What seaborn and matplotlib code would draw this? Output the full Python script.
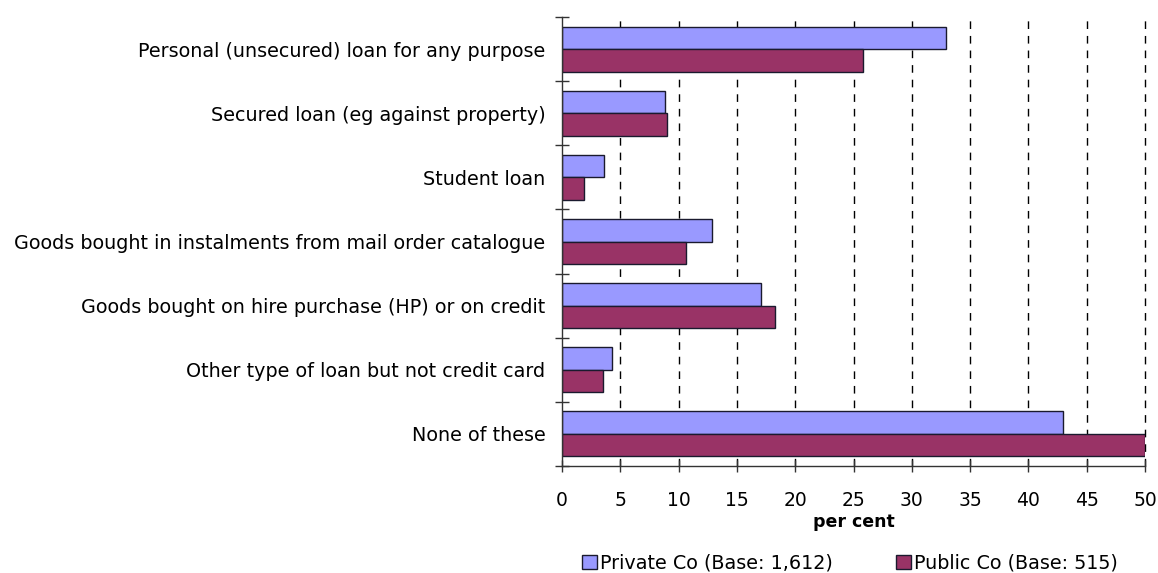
import matplotlib
matplotlib.use("Agg")
import matplotlib.pyplot as plt
import seaborn as sns
import pandas as pd
import numpy as np

categories = [
    "Personal (unsecured) loan for any purpose",
    "Secured loan (eg against property)",
    "Student loan",
    "Goods bought in instalments from mail order catalogue",
    "Goods bought on hire purchase (HP) or on credit",
    "Other type of loan but not credit card",
    "None of these",
]
series_names = ["Private Co (Base: 1,612)", "Public Co (Base: 515)"]
private_vals = [32.9, 8.8, 3.6, 12.9, 17.1, 4.3, 43.0]
public_vals = [25.8, 9.0, 1.9, 10.6, 18.3, 3.5, 50.0]
x_ticks = [0, 5, 10, 15, 20, 25, 30, 35, 40, 45, 50]

df = pd.DataFrame({
    "category": categories * 2,
    "series": [series_names[0]] * len(categories) + [series_names[1]] * len(categories),
    "value": private_vals + public_vals,
})

sns.set_style("white")
plt.rcParams["font.family"] = ["DejaVu Sans"]

fig = plt.figure(figsize=(11.58, 5.73), dpi=100)
ax = fig.add_axes([0.4853, 0.1867, 0.5035, 0.7836])

sns.barplot(data=df, y="category", x="value", hue="series", order=categories,
            hue_order=series_names, palette=["#9999FF", "#993366"],
            orient="h", width=0.7, edgecolor="#1a1a2e", linewidth=1.0,
            saturation=1, ax=ax, legend=True)

ax.set_xlim(0, 50)
ax.set_ylim(len(categories) - 0.5, -0.5)
ax.set_xticks(x_ticks)
ax.set_xticklabels([str(t) for t in x_ticks], fontsize=13.5, color="black")
ax.tick_params(axis="x", bottom=True, direction="inout", length=8, width=1,
               color="#333333", pad=14)
ax.tick_params(axis="y", which="major", left=False, length=0, labelsize=13.8,
               pad=12, labelcolor="black")
ax.set_yticks(np.arange(-0.5, len(categories), 1.0), minor=True)
ax.tick_params(axis="y", which="minor", left=True, direction="inout", length=9.5,
               width=1, color="#333333")
ax.set_ylabel("")
ax.set_xlabel("per cent", fontsize=12.5, fontweight="bold", labelpad=2, color="black")

for t in x_ticks[1:]:
    ax.axvline(t, color="black", linestyle=(0, (5.5, 5)), linewidth=1, zorder=0,
               clip_on=False)

for s in ["top", "right"]:
    ax.spines[s].set_visible(False)
for s in ["left", "bottom"]:
    ax.spines[s].set_color("#333333")
    ax.spines[s].set_linewidth(1)

handles, labels = ax.get_legend_handles_labels()
ax.legend_.remove()
leg = fig.legend(handles, labels, loc="center", bbox_to_anchor=(850 / 1158, 1 - 563 / 573),
                 ncol=2, frameon=False, fontsize=13.8, handlelength=0.78, handleheight=0.78,
                 handletextpad=0.15, columnspacing=3.3)
for txt in leg.get_texts():
    txt.set_color("black")

fig.savefig("out.png", dpi=100)
